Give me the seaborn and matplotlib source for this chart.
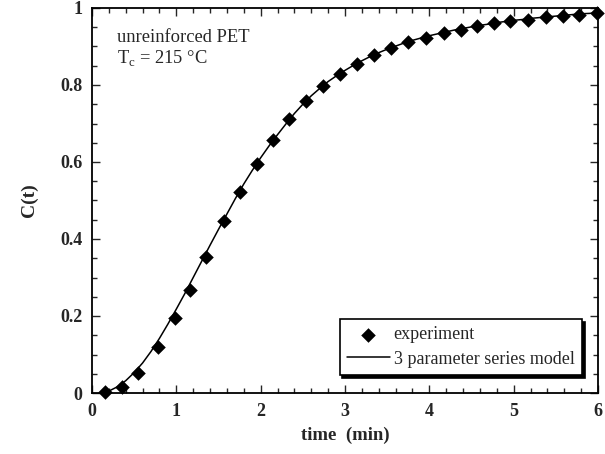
import matplotlib
matplotlib.use("Agg")
import matplotlib.pyplot as plt
import seaborn as sns
import pandas as pd
from matplotlib.ticker import MultipleLocator

# experimental points
exp_t = [0.15, 0.36, 0.55, 0.78, 0.98, 1.16, 1.35, 1.56, 1.75, 1.96, 2.15, 2.34, 2.54,
         2.74, 2.94, 3.14, 3.34, 3.55, 3.75, 3.96, 4.17, 4.37, 4.56, 4.77, 4.96,
         5.17, 5.38, 5.59, 5.78, 5.99]
exp_c = [0.002, 0.016, 0.051, 0.120, 0.194, 0.268, 0.354, 0.446, 0.522, 0.595, 0.656,
         0.712, 0.758, 0.797, 0.828, 0.855, 0.878, 0.896, 0.911, 0.923, 0.934, 0.944,
         0.953, 0.960, 0.965, 0.970, 0.976, 0.980, 0.983, 0.986]

# model curve
model_t = [0.1, 0.2, 0.3, 0.4, 0.5, 0.6, 0.7, 0.8, 0.9, 1.0, 1.1, 1.2, 1.3, 1.4, 1.5,
           1.6, 1.7, 1.8, 1.9, 2.0, 2.1, 2.2, 2.3, 2.4, 2.5, 2.6, 2.7, 2.8, 2.9, 3.0,
           3.1, 3.2, 3.3, 3.4, 3.5, 3.6, 3.7, 3.8, 3.9, 4.0, 4.1, 4.2, 4.3, 4.4, 4.5,
           4.6, 4.7, 4.8, 4.9, 5.0, 5.1, 5.2, 5.3, 5.4, 5.5, 5.6, 5.7, 5.8, 5.9, 6.0]
model_c = [0.000, 0.005, 0.016, 0.032, 0.053, 0.078, 0.108, 0.142, 0.179, 0.218, 0.258,
           0.300, 0.342, 0.384, 0.425, 0.465, 0.505, 0.543, 0.578, 0.611, 0.642, 0.671,
           0.699, 0.726, 0.750, 0.772, 0.791, 0.809, 0.824, 0.838, 0.851, 0.863, 0.874,
           0.884, 0.893, 0.901, 0.909, 0.916, 0.922, 0.928, 0.933, 0.938, 0.943, 0.947,
           0.951, 0.955, 0.958, 0.962, 0.965, 0.968, 0.970, 0.973, 0.975, 0.977, 0.979,
           0.981, 0.983, 0.985, 0.986, 0.988]

x_ticks = [0, 1, 2, 3, 4, 5, 6]
x_tick_labels = ["0", "1", "2", "3", "4", "5", "6"]
y_ticks = [0, 0.2, 0.4, 0.6, 0.8, 1.0]
y_tick_labels = ["0", "0.2", "0.4", "0.6", "0.8", "1"]

sns.set_style("ticks")
plt.rcParams["font.family"] = ["Liberation Serif", "DejaVu Serif"]
plt.rcParams["mathtext.fontset"] = "custom"
plt.rcParams["mathtext.rm"] = "Liberation Serif"

exp_df = pd.DataFrame({"t": exp_t, "c": exp_c})
mod_df = pd.DataFrame({"t": model_t, "c": model_c})

fig = plt.figure(figsize=(6.05, 4.54), dpi=100)
ax = fig.add_axes([92 / 605, 61 / 454, 506 / 605, 385 / 454])

sns.lineplot(data=mod_df, x="t", y="c", ax=ax, color="black", linewidth=1.1,
             label="3 parameter series model", zorder=2)
sns.scatterplot(data=exp_df, x="t", y="c", ax=ax, marker="D", s=55, color="black",
                edgecolor="black", linewidth=0, label="experiment", zorder=3,
                clip_on=False)

ax.set_xlim(0, 6)
ax.set_ylim(0, 1)
ax.set_xticks(x_ticks)
ax.set_xticklabels(x_tick_labels)
ax.set_yticks(y_ticks)
ax.set_yticklabels(y_tick_labels)
ax.xaxis.set_minor_locator(MultipleLocator(0.2))
ax.yaxis.set_minor_locator(MultipleLocator(0.05))
ax.tick_params(which="both", direction="in", top=True, right=True, width=1.0)
ax.tick_params(which="major", length=6, labelsize=13, pad=7)
ax.tick_params(which="minor", length=3.5)
for lab in ax.get_xticklabels() + ax.get_yticklabels():
    lab.set_fontweight("bold")
for sp in ax.spines.values():
    sp.set_linewidth(1.3)
    sp.set_color("black")

ax.set_xlabel("time  (min)", fontsize=13.5, fontweight="bold", labelpad=5)
ax.set_ylabel("C(t)", fontsize=14, fontweight="bold", labelpad=16)

ax.text(0.049, 0.945, "unreinforced PET", transform=ax.transAxes, fontsize=13.3,
        va="top", ha="left")
ax.text(0.049, 0.897, r"T$_\mathregular{c}$ = 215 °C", transform=ax.transAxes,
        fontsize=13.3, va="top", ha="left")

handles, labels = ax.get_legend_handles_labels()
order = [labels.index("experiment"), labels.index("3 parameter series model")]
leg = ax.legend([handles[i] for i in order], [labels[i] for i in order],
                loc="lower right", bbox_to_anchor=(0.968, 0.047), fontsize=13,
                frameon=True, fancybox=False, shadow={"color": "black", "alpha": 1},
                edgecolor="black", framealpha=1, handlelength=2.4, handletextpad=0.2,
                borderpad=0.4, labelspacing=0.4, borderaxespad=0)
leg.get_frame().set_linewidth(1.2)

fig.savefig("out.png", dpi=100)
